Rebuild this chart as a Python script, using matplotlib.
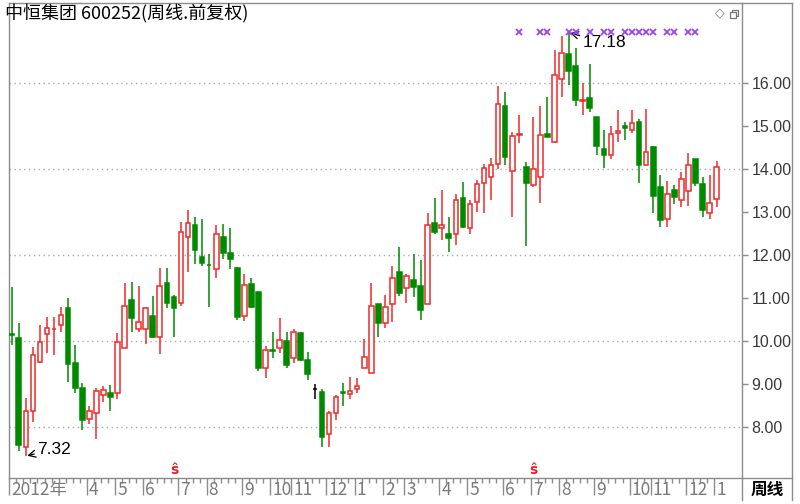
import numpy as np
import matplotlib.pyplot as plt
from matplotlib.lines import Line2D
from matplotlib.patches import Rectangle
from matplotlib.transforms import ScaledTranslation, blended_transform_factory

title = "中恒集团 600252(周线.前复权)"

# weekly OHLC, Jan 2012 .. Jan 2014
opens = [10.17, 10.06, 7.53, 8.38, 9.52, 10.16, 10.27, 10.37, 10.76, 9.48,
         8.91, 8.19, 8.33, 8.74, 8.80, 8.80, 9.83, 10.95, 10.27, 10.27,
         10.58, 10.09, 11.36, 11.03, 10.88, 12.41, 12.70, 11.95, 11.78, 11.67,
         12.43, 12.05, 11.69, 10.58, 11.33, 11.15, 9.37, 9.79, 9.83, 10.00,
         9.60, 10.19, 9.56, 8.88, 8.82, 7.84, 8.32, 8.82, 8.77, 8.88,
         9.38, 9.26, 10.86, 10.41, 10.85, 11.61, 11.23, 11.43, 11.28, 10.85,
         12.75, 12.62, 12.50, 12.50, 13.32, 12.62, 13.24, 13.67, 13.81, 14.13,
         15.48, 13.96, 14.79, 14.04, 13.63, 13.81, 14.81, 14.63, 16.11, 16.69,
         16.40, 15.58, 15.66, 15.22, 14.48, 14.33, 14.85, 15.00, 14.91, 15.10,
         14.09, 14.52, 13.59, 12.83, 13.51, 13.28, 13.50, 14.23, 13.65, 12.98,
         13.30]
highs = [11.26, 10.43, 8.67, 9.87, 10.37, 10.55, 10.57, 10.78, 10.99, 9.91,
         9.03, 8.49, 8.90, 8.95, 8.98, 10.19, 11.36, 11.38, 11.28, 10.78,
         11.05, 11.69, 11.69, 11.08, 12.77, 13.06, 12.89, 12.85, 12.02, 12.70,
         12.72, 12.64, 11.73, 11.57, 11.46, 11.15, 9.89, 10.22, 10.53, 10.22,
         10.28, 10.22, 9.75, 9.00, 8.88, 8.38, 8.74, 9.02, 9.17, 9.13,
         10.05, 11.34, 10.87, 11.07, 11.74, 12.19, 11.57, 12.02, 11.88, 12.97,
         13.32, 13.51, 12.88, 13.43, 13.70, 13.28, 13.74, 14.13, 14.27, 15.93,
         15.80, 14.87, 15.26, 14.17, 15.22, 15.47, 15.67, 16.77, 17.10, 17.18,
         16.83, 16.01, 16.46, 15.22, 14.91, 15.00, 15.37, 15.10, 15.39, 15.16,
         15.41, 14.53, 13.86, 13.72, 13.63, 13.94, 14.38, 14.23, 13.82, 13.86,
         14.19]
lows = [9.91, 7.43, 7.32, 8.12, 9.48, 9.71, 9.67, 10.22, 9.05, 8.78,
        7.93, 8.07, 7.71, 8.59, 8.38, 8.65, 9.83, 10.22, 10.22, 9.93,
        10.06, 9.70, 10.76, 10.09, 10.81, 11.61, 11.80, 11.74, 10.80, 11.46,
        11.92, 11.67, 10.50, 10.47, 10.76, 9.29, 9.13, 9.60, 9.71, 9.38,
        9.48, 9.54, 9.09, 8.65, 7.53, 7.54, 8.15, 8.49, 8.65, 8.78,
        9.38, 9.26, 10.10, 10.31, 10.45, 11.05, 10.88, 11.02, 10.49, 10.85,
        12.50, 12.35, 12.08, 12.23, 12.62, 12.49, 13.00, 12.98, 13.28, 14.01,
        14.09, 12.89, 14.61, 12.21, 13.59, 13.22, 14.75, 14.60, 15.68, 15.95,
        15.47, 15.26, 15.33, 14.33, 14.02, 14.23, 14.63, 14.69, 14.84, 13.68,
        14.09, 12.97, 12.66, 12.66, 13.20, 13.11, 13.14, 13.60, 12.89, 12.83,
        13.11]
closes = [10.15, 7.58, 8.38, 9.67, 9.98, 10.31, 10.29, 10.60, 9.46, 8.90,
          8.16, 8.38, 8.84, 8.86, 8.69, 9.98, 10.81, 10.53, 10.45, 10.76,
          10.09, 11.28, 10.89, 10.76, 12.54, 12.75, 12.13, 11.82, 11.76, 12.50,
          12.06, 11.92, 10.57, 11.30, 10.78, 9.37, 9.79, 9.77, 10.02, 9.44,
          10.22, 9.56, 9.23, 8.88, 7.77, 8.32, 8.69, 8.80, 8.84, 8.95,
          9.63, 10.81, 10.41, 10.78, 11.47, 11.12, 11.52, 11.26, 10.72, 12.71,
          12.54, 12.70, 12.39, 13.29, 12.66, 13.18, 13.66, 14.02, 14.09, 15.51,
          14.29, 14.77, 14.81, 13.67, 14.00, 14.79, 14.75, 16.19, 16.71, 16.29,
          15.62, 15.60, 15.43, 14.53, 14.33, 14.83, 14.88, 14.97, 15.08, 14.09,
          14.39, 13.37, 12.81, 13.42, 13.36, 13.78, 14.09, 13.68, 13.06, 13.22,
          14.05]

month_idx = [0, 11, 15, 19, 24, 28, 33, 37, 40, 45, 49, 53, 56, 61, 65, 70,
             74, 78, 83, 88, 91, 96, 100]
month_lbl = ["2012年", "4", "5", "6", "7", "8", "9", "10", "11", "12", "1",
             "2", "3", "4", "5", "6", "7", "8", "9", "10", "11", "12", "1"]
price_ticks = [8, 9, 10, 11, 12, 13, 14, 15, 16]
grid_levels = [8, 10, 12, 14, 16]
mark_idx = [72, 75, 76, 79, 80, 82, 84, 85, 87, 88, 89, 90, 91, 93, 94, 96, 97]
div_idx = [23, 74]
low_idx, low_txt = 2, "7.32"
high_idx, high_txt = 79, "17.18"

RED = "#f02828"
GREEN = "#008a00"
GRAY = "#8c8c8c"
W, H = 800, 504

fig = plt.figure(figsize=(8, 5.04), dpi=100)
ax = fig.add_axes([9.3 / W, 1 - 478 / H, (742 - 9.3) / W, (478 - 3) / H])

o, h, l, c = (np.array(v) for v in (opens, highs, lows, closes))
x = np.arange(len(o))
up = c > o
dn = c < o
fl = c == o
col = np.where(up, RED, np.where(dn, GREEN, "black"))

ax.vlines(x, l, h, colors=col, lw=1.1, zorder=2)
bw = 0.66
ax.bar(x[up], np.maximum(c[up] - o[up], 0.012), bottom=o[up], width=bw,
       facecolor="white", edgecolor=RED, lw=1.1, zorder=3)
ax.bar(x[dn], np.maximum(o[dn] - c[dn], 0.012), bottom=c[dn], width=bw,
       facecolor=GREEN, edgecolor=GREEN, lw=1.1, zorder=3)
ax.bar(x[fl], 0.012, bottom=o[fl], width=bw,
       facecolor="black", edgecolor="black", lw=1.1, zorder=3)

for g in grid_levels:
    ax.axhline(g, color="#a8a8a8", lw=1, ls=(0, (1, 2.5)), zorder=1)

ax.set_xlim(-0.34, 103.6)
ax.set_ylim(6.81, 17.87)

for s in ax.spines.values():
    s.set_color(GRAY)
    s.set_linewidth(1)

# right price axis
ax.yaxis.tick_right()
ax.set_yticks(price_ticks)
ax.set_yticklabels(["%.2f" % p for p in price_ticks])
ax.tick_params(axis="y", direction="out", length=4, width=1, color=GRAY,
               labelsize=11.5, labelcolor="#3a3a3a", pad=3)
for t in ax.get_yticklabels():
    t.set_family("Liberation Sans")

# bottom month ruler
ax.set_xticks(np.array(month_idx) - 0.35)
ax.set_xticklabels([])
ax.set_xticks([i - 0.35 for i in x if i not in month_idx], minor=True)
ax.tick_params(axis="x", which="major", direction="out", length=12.5, width=1,
               color=GRAY)
ax.tick_params(axis="x", which="minor", direction="out", length=3.5, width=1,
               color=GRAY)
lbl_tr = ax.get_xaxis_transform() + ScaledTranslation(1.5 / 72, -2.5 / 72,
                                                      fig.dpi_scale_trans)
for i, s in zip(month_idx, month_lbl):
    ax.text(i - 0.35, 0, s, transform=lbl_tr, ha="left", va="top",
            fontsize=12.5, color="#7a7a7a",
            family=["Liberation Sans Narrow", "Noto Sans CJK SC"])

# markers at top and dividend marks
top_tr = blended_transform_factory(ax.transData, ax.transAxes)
ax.plot(mark_idx, [0.94] * len(mark_idx), ls="none", marker="x", ms=4.5,
        mew=1.3, color="#a040f0", transform=top_tr, clip_on=False, zorder=4)
for i in div_idx:
    ax.text(i, 0.003, "ŝ", transform=top_tr, ha="center", va="bottom",
            fontsize=10, fontweight="bold", color="#e82020")

# high / low annotations
ax.annotate(low_txt, xy=(low_idx, lows[low_idx]), xytext=(8, 5),
            textcoords="offset points", ha="left", va="center", fontsize=12.5,
            family="Liberation Sans",
            arrowprops=dict(arrowstyle="->", color="black", lw=0.9,
                            shrinkA=0, shrinkB=1))
ax.annotate(high_txt, xy=(high_idx, highs[high_idx]), xytext=(10, -7),
            textcoords="offset points", ha="left", va="center", fontsize=12.5,
            family="Liberation Sans",
            arrowprops=dict(arrowstyle="->", color="black", lw=0.9,
                            shrinkA=0, shrinkB=1))

# title and chrome
fig.text(5 / W, 1 - 13.5 / H, title, fontsize=13, family="Noto Sans CJK SC",
         ha="left", va="center", color="black")
fig.text(767 / W, 1 - 490 / H, "周线", fontsize=12, fontweight="bold",
         family="Noto Sans CJK SC", ha="center", va="center")
fig.text(720 / W, 1 - 13 / H, "◇", fontsize=9, color="#777777",
         ha="center", va="center")
for dx, dy in [(732, 10), (730, 12)]:
    fig.add_artist(Rectangle((dx / W, 1 - (dy + 6) / H), 6 / W, 6 / H,
                             transform=fig.transFigure, fill=True,
                             facecolor="white", edgecolor="#777777", lw=0.9))

def fline(xs, ys):
    fig.add_artist(Line2D([v / W for v in xs], [1 - v / H for v in ys],
                          transform=fig.transFigure, color=GRAY, lw=1))

fline([742, 792], [3, 3])
fline([792, 792], [3, 500])
fline([742, 792], [478, 478])
fline([742, 742], [478, 500])

fig.savefig("out.png", dpi=100)
